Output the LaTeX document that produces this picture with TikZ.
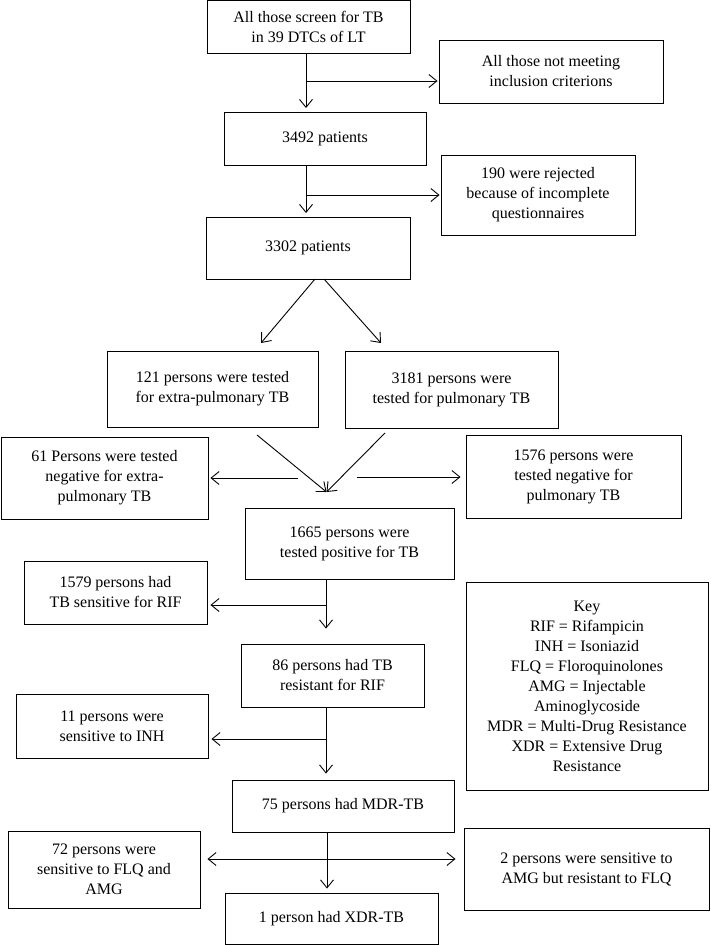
\documentclass[tikz,border=0pt]{standalone}
\usepackage{fontspec}
\setmainfont{Liberation Serif}
\usetikzlibrary{arrows.meta}
\begin{document}
\begin{tikzpicture}[x=1pt,y=-1pt,
  box/.style={draw=black, line width=0.9pt, align=center, inner sep=2pt,
    font=\fontsize{16}{20}\selectfont},
  arr/.style={draw=black, line width=0.9pt, -{Straight Barb[length=8pt,width=13pt,line width=0.9pt]}},
  ln/.style={draw=black, line width=0.9pt}]
\useasboundingbox (0,0) rectangle (710,945);
\fill[white] (0,0) rectangle (710,945);
% nodes
\node[box, minimum width=203, minimum height=53] (top) at (308.5,27) {All those screen for TB\\in 39 DTCs of LT};
\node[box, minimum width=224, minimum height=63] (excl) at (551,71.5) {All those not meeting\\inclusion criterions};
\node[box, minimum width=202, minimum height=53] (p3492) at (325,138.5) {3492 patients};
\node[box, minimum width=194, minimum height=80] (rej) at (538,195) {190 were rejected\\because of incomplete\\questionnaires};
\node[box, minimum width=204, minimum height=62] (p3302) at (308,248) {3302 patients};
\node[box, minimum width=211, minimum height=76] (ep) at (212.5,389) {121 persons were tested\\for extra-pulmonary TB};
\node[box, minimum width=213, minimum height=77] (pul) at (451.5,389.5) {3181 persons were\\tested for pulmonary TB};
\node[box, minimum width=207, minimum height=82] (negep) at (104.5,478) {61 Persons were tested\\negative for extra-\\pulmonary TB};
\node[box, minimum width=215, minimum height=83] (negp) at (573.5,476.5) {1576 persons were\\tested negative for\\pulmonary TB};
\node[box, minimum width=209, minimum height=71] (pos) at (349.5,543.5) {1665 persons were\\tested positive for TB};
\node[box, minimum width=183, minimum height=63] (rifs) at (115.5,592.5) {1579 persons had\\TB sensitive for RIF};
\node[box, minimum width=183, minimum height=63] (rifr) at (332.5,675.5) {86 persons had TB\\resistant for RIF};
\node[box, minimum width=242, minimum height=208] (key) at (587,686) {Key\\RIF = Rifampicin\\INH = Isoniazid\\FLQ = Floroquinolones\\AMG = Injectable\\Aminoglycoside\\MDR = Multi-Drug Resistance\\XDR = Extensive Drug\\Resistance};
\node[box, minimum width=192, minimum height=64] (inh) at (112,726) {11 persons were\\sensitive to INH};
\node[box, minimum width=222, minimum height=52] (mdr) at (343,806) {75 persons had MDR-TB};
\node[box, minimum width=192, minimum height=77] (flq) at (104,869.5) {72 persons were\\sensitive to FLQ and\\AMG};
\node[box, minimum width=245, minimum height=82] (amg) at (586.5,869) {2 persons were sensitive to\\AMG but resistant to FLQ};
\node[box, minimum width=213, minimum height=51] (xdr) at (331.5,918.5) {1 person had XDR-TB};
% junction coordinates
\coordinate (j1) at (306,81);
\coordinate (j2) at (306,195);
\coordinate (d1s) at (315,279);
\coordinate (d1e) at (261,343);
\coordinate (d2s) at (324,279);
\coordinate (d2e) at (381,343);
\coordinate (c1s) at (257,435);
\coordinate (c2s) at (385,433);
\coordinate (m) at (326.5,492);
\coordinate (h1s) at (298,478);
\coordinate (h2s) at (357,477);
\coordinate (j3) at (326,605);
\coordinate (j4) at (326,739);
\coordinate (j5) at (327,859);
% connectors
\draw[arr, shorten >=3.5pt] (top.south -| j1) -- (p3492.north -| j1);
\draw[arr, shorten >=1pt] (j1) -- (excl.west |- j1);
\draw[arr, shorten >=3.5pt] (p3492.south -| j2) -- (p3302.north -| j2);
\draw[arr, shorten >=1pt] (j2) -- (rej.west |- j2);
\draw[arr] (d1s) -- (d1e);
\draw[arr] (d2s) -- (d2e);
\draw[arr] (c1s) -- (m);
\draw[arr] (c2s) -- (m);
\draw[arr, shorten >=2pt] (h1s) -- (negep.east |- h1s);
\draw[arr, shorten >=5pt] (h2s) -- (negp.west |- h2s);
\draw[arr, shorten >=15pt] (pos.south -| j3) -- (rifr.north -| j3);
\draw[arr, shorten >=3pt] (j3) -- (rifs.east |- j3);
\draw[arr, shorten >=6pt] (rifr.south -| j4) -- (mdr.north -| j4);
\draw[arr, shorten >=3pt] (j4) -- (inh.east |- j4);
\draw[arr, shorten >=4pt] (mdr.south -| j5) -- (xdr.north -| j5);
\draw[arr, shorten >=7pt] (j5) -- (flq.east |- j5);
\draw[arr, shorten >=8pt] (j5) -- (amg.west |- j5);
\end{tikzpicture}
\end{document}
